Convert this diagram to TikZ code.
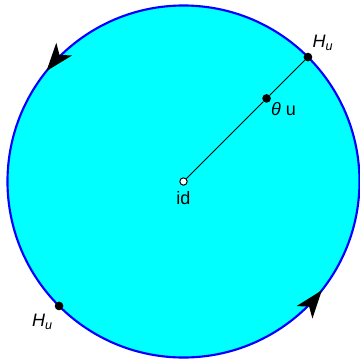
\documentclass[tikz,border=0pt]{standalone}
\usepackage{fontspec}
\setmainfont{Liberation Sans}
\usetikzlibrary{calc, arrows.meta, decorations.markings}
\definecolor{diskfill}{RGB}{0, 255, 255}
\definecolor{rimblue}{RGB}{0, 0, 255}
\tikzset{rimtip/.tip={Stealth[length=21pt, width=15pt, inset=5.5pt]}}

\begin{document}
\begin{tikzpicture}[x=0.75pt, y=0.75pt, font=\fontsize{13.5}{15}\selectfont,
    soliddot/.style={circle, fill=black, inner sep=0pt, minimum size=6.5pt},
    hollowdot/.style={circle, draw=black, fill=white, line width=0.75pt, inner sep=0pt, minimum size=5.5pt},
    rim/.style={draw=rimblue, fill=diskfill, line width=1.6pt,
      decoration={markings,
        mark=at position 0.392 with {\arrow[black]{rimtip}},
        mark=at position 0.894 with {\arrow[black]{rimtip}}},
      postaction={decorate}}]
  \useasboundingbox (-183.5,-176.5) rectangle (176.5,181.5);

  % the disk and its boundary circle
  \path[rim] (0,0) circle[radius=132pt];

  % points
  \node[hollowdot] (id) at (0,0) {};
  \node[soliddot] (HuTop) at (45:176) {};
  \node[soliddot] (thetau) at (45:117.5) {};
  \node[soliddot] (HuBot) at (225:176) {};

  \draw[line width=0.75pt] (id) -- (thetau);
  \draw[line width=0.75pt] (thetau) -- (HuTop);

  % labels
  \node (idLbl) at ($(id)+(0,-17)$) {id};
  \node (HuTopLbl) at ($(HuTop)+(15,14)$) {\textit{H\textsubscript{u}}};
  \node (HuBotLbl) at ($(HuBot)+(-16.5,-16)$) {\textit{H\textsubscript{u}}};
  \node (thetauLbl) at ($(thetau)+(17,-11)$) {\textit{θ} u};
\end{tikzpicture}
\end{document}
